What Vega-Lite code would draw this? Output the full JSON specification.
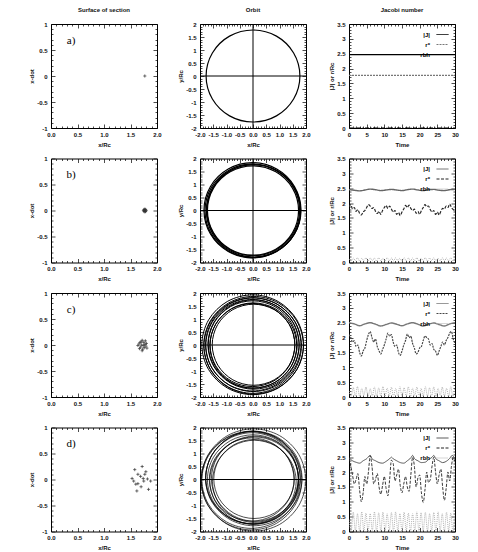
{
"$schema":"https://vega.github.io/schema/vega-lite/v6.json",
"padding":{"left":28,"top":6,"right":5,"bottom":2},
"background":"white",
"config":{
 "view":{"stroke":"black","strokeWidth":1},
 "font":"Liberation Sans",
 "axis":{"grid":false,"domain":false,"labelFont":"Liberation Sans","titleFont":"Liberation Sans","labelFontSize":6,"titleFontSize":6,"labelFontWeight":"bold","titleFontWeight":"bold","labelColor":"#111","titleColor":"#111","tickColor":"black","tickWidth":0.7,"labelOverlap":false,"labelFlush":false,"titlePadding":2},
 "title":{"font":"Liberation Sans","fontSize":6,"fontWeight":"bold","offset":8,"color":"#111"},
 "legend":{"labelFont":"Liberation Sans","labelFontSize":6,"labelFontWeight":"bold","labelColor":"black"}
},
"datasets":{
 "sa":[{"x":1.77,"y":0}],
 "sb":[{"x":1.76,"y":0.01},{"x":1.78,"y":-0.01},{"x":1.77,"y":0.025},{"x":1.77,"y":-0.025},{"x":1.745,"y":0},{"x":1.795,"y":0},{"x":1.755,"y":-0.02},{"x":1.785,"y":0.02},{"x":1.755,"y":0.02},{"x":1.785,"y":-0.02}],
 "sc":[{"x":1.66,"y":0.02},{"x":1.70,"y":0.06},{"x":1.72,"y":0.09},{"x":1.75,"y":0.05},{"x":1.78,"y":0.08},{"x":1.80,"y":0.03},{"x":1.79,"y":-0.02},{"x":1.76,"y":-0.05},{"x":1.73,"y":-0.08},{"x":1.69,"y":-0.04},{"x":1.67,"y":-0.07},{"x":1.64,"y":-0.01},{"x":1.71,"y":0.0},{"x":1.74,"y":-0.01},{"x":1.77,"y":0.01},{"x":1.68,"y":0.05},{"x":1.81,"y":-0.06},{"x":1.72,"y":-0.11}],
 "sd":[{"x":1.53,"y":0.02},{"x":1.58,"y":0.19},{"x":1.64,"y":0.10},{"x":1.72,"y":0.25},{"x":1.69,"y":0.06},{"x":1.74,"y":0.02},{"x":1.77,"y":0.10},{"x":1.79,"y":0.15},{"x":1.82,"y":0.01},{"x":1.88,"y":-0.03},{"x":1.64,"y":-0.08},{"x":1.60,"y":-0.09},{"x":1.62,"y":-0.22},{"x":1.70,"y":-0.14},{"x":1.84,"y":-0.19},{"x":1.75,"y":-0.03},{"x":1.56,"y":-0.03}],
 "oa":[{"k":1,"x":1.77,"y":0},{"k":1,"x":1.533,"y":0.885},{"k":1,"x":0.885,"y":1.533},{"k":1,"x":0,"y":1.77},{"k":1,"x":-0.885,"y":1.533},{"k":1,"x":-1.533,"y":0.885},{"k":1,"x":-1.77,"y":0},{"k":1,"x":-1.533,"y":-0.885},{"k":1,"x":-0.885,"y":-1.533},{"k":1,"x":0,"y":-1.77},{"k":1,"x":0.885,"y":-1.533},{"k":1,"x":1.533,"y":-0.885}],
 "ob":[
  {"k":1,"x":1.72,"y":0},{"k":1,"x":1.49,"y":0.86},{"k":1,"x":0.86,"y":1.49},{"k":1,"x":0,"y":1.72},{"k":1,"x":-0.86,"y":1.49},{"k":1,"x":-1.49,"y":0.86},{"k":1,"x":-1.72,"y":0},{"k":1,"x":-1.49,"y":-0.86},{"k":1,"x":-0.86,"y":-1.49},{"k":1,"x":0,"y":-1.72},{"k":1,"x":0.86,"y":-1.49},{"k":1,"x":1.49,"y":-0.86},
  {"k":2,"x":1.8,"y":-0.01},{"k":2,"x":1.561,"y":0.88},{"k":2,"x":0.91,"y":1.531},{"k":2,"x":0.02,"y":1.77},{"k":2,"x":-0.87,"y":1.531},{"k":2,"x":-1.521,"y":0.88},{"k":2,"x":-1.76,"y":-0.01},{"k":2,"x":-1.521,"y":-0.9},{"k":2,"x":-0.87,"y":-1.551},{"k":2,"x":0.02,"y":-1.79},{"k":2,"x":0.91,"y":-1.551},{"k":2,"x":1.561,"y":-0.9},
  {"k":3,"x":1.81,"y":0.01},{"k":3,"x":1.565,"y":0.925},{"k":3,"x":0.895,"y":1.595},{"k":3,"x":-0.02,"y":1.84},{"k":3,"x":-0.935,"y":1.595},{"k":3,"x":-1.605,"y":0.925},{"k":3,"x":-1.85,"y":0.01},{"k":3,"x":-1.605,"y":-0.905},{"k":3,"x":-0.935,"y":-1.575},{"k":3,"x":-0.02,"y":-1.82},{"k":3,"x":0.895,"y":-1.575},{"k":3,"x":1.565,"y":-0.905},
  {"k":4,"x":1.76,"y":0.01},{"k":4,"x":1.526,"y":0.885},{"k":4,"x":0.885,"y":1.526},{"k":4,"x":0.01,"y":1.76},{"k":4,"x":-0.865,"y":1.526},{"k":4,"x":-1.506,"y":0.885},{"k":4,"x":-1.74,"y":0.01},{"k":4,"x":-1.506,"y":-0.865},{"k":4,"x":-0.865,"y":-1.506},{"k":4,"x":0.01,"y":-1.74},{"k":4,"x":0.885,"y":-1.506},{"k":4,"x":1.526,"y":-0.865},
  {"k":5,"x":1.79,"y":-0.01},{"k":5,"x":1.549,"y":0.89},{"k":5,"x":0.89,"y":1.549},{"k":5,"x":-0.01,"y":1.79},{"k":5,"x":-0.91,"y":1.549},{"k":5,"x":-1.569,"y":0.89},{"k":5,"x":-1.81,"y":-0.01},{"k":5,"x":-1.569,"y":-0.91},{"k":5,"x":-0.91,"y":-1.569},{"k":5,"x":-0.01,"y":-1.81},{"k":5,"x":0.89,"y":-1.569},{"k":5,"x":1.549,"y":-0.91}],
 "oc":[
  {"k":1,"x":1.58,"y":0.01},{"k":1,"x":1.371,"y":0.79},{"k":1,"x":0.80,"y":1.361},{"k":1,"x":0.02,"y":1.57},{"k":1,"x":-0.76,"y":1.361},{"k":1,"x":-1.331,"y":0.79},{"k":1,"x":-1.54,"y":0.01},{"k":1,"x":-1.331,"y":-0.77},{"k":1,"x":-0.76,"y":-1.341},{"k":1,"x":0.02,"y":-1.55},{"k":1,"x":0.80,"y":-1.341},{"k":1,"x":1.371,"y":-0.77},
  {"k":2,"x":1.58,"y":0},{"k":2,"x":1.366,"y":0.8},{"k":2,"x":0.78,"y":1.386},{"k":2,"x":-0.02,"y":1.6},{"k":2,"x":-0.82,"y":1.386},{"k":2,"x":-1.406,"y":0.8},{"k":2,"x":-1.62,"y":0},{"k":2,"x":-1.406,"y":-0.8},{"k":2,"x":-0.82,"y":-1.386},{"k":2,"x":-0.02,"y":-1.6},{"k":2,"x":0.78,"y":-1.386},{"k":2,"x":1.366,"y":-0.8},
  {"k":3,"x":1.65,"y":-0.02},{"k":3,"x":1.43,"y":0.8},{"k":3,"x":0.83,"y":1.4},{"k":3,"x":0.01,"y":1.62},{"k":3,"x":-0.81,"y":1.4},{"k":3,"x":-1.41,"y":0.8},{"k":3,"x":-1.63,"y":-0.02},{"k":3,"x":-1.41,"y":-0.84},{"k":3,"x":-0.81,"y":-1.44},{"k":3,"x":0.01,"y":-1.66},{"k":3,"x":0.83,"y":-1.44},{"k":3,"x":1.43,"y":-0.84},
  {"k":4,"x":1.67,"y":0.02},{"k":4,"x":1.445,"y":0.86},{"k":4,"x":0.83,"y":1.475},{"k":4,"x":-0.01,"y":1.7},{"k":4,"x":-0.85,"y":1.475},{"k":4,"x":-1.465,"y":0.86},{"k":4,"x":-1.69,"y":0.02},{"k":4,"x":-1.465,"y":-0.82},{"k":4,"x":-0.85,"y":-1.435},{"k":4,"x":-0.01,"y":-1.66},{"k":4,"x":0.83,"y":-1.435},{"k":4,"x":1.445,"y":-0.82},
  {"k":5,"x":1.74,"y":0.02},{"k":5,"x":1.51,"y":0.88},{"k":5,"x":0.88,"y":1.51},{"k":5,"x":0.02,"y":1.74},{"k":5,"x":-0.84,"y":1.51},{"k":5,"x":-1.47,"y":0.88},{"k":5,"x":-1.7,"y":0.02},{"k":5,"x":-1.47,"y":-0.84},{"k":5,"x":-0.84,"y":-1.47},{"k":5,"x":0.02,"y":-1.7},{"k":5,"x":0.88,"y":-1.47},{"k":5,"x":1.51,"y":-0.84},
  {"k":6,"x":1.74,"y":-0.01},{"k":6,"x":1.504,"y":0.87},{"k":6,"x":0.86,"y":1.514},{"k":6,"x":-0.02,"y":1.75},{"k":6,"x":-0.9,"y":1.514},{"k":6,"x":-1.544,"y":0.87},{"k":6,"x":-1.78,"y":-0.01},{"k":6,"x":-1.544,"y":-0.89},{"k":6,"x":-0.9,"y":-1.534},{"k":6,"x":-0.02,"y":-1.77},{"k":6,"x":0.86,"y":-1.534},{"k":6,"x":1.504,"y":-0.89},
  {"k":7,"x":1.81,"y":0.01},{"k":7,"x":1.569,"y":0.91},{"k":7,"x":0.91,"y":1.569},{"k":7,"x":0.01,"y":1.81},{"k":7,"x":-0.89,"y":1.569},{"k":7,"x":-1.549,"y":0.91},{"k":7,"x":-1.79,"y":0.01},{"k":7,"x":-1.549,"y":-0.89},{"k":7,"x":-0.89,"y":-1.549},{"k":7,"x":0.01,"y":-1.79},{"k":7,"x":0.91,"y":-1.549},{"k":7,"x":1.569,"y":-0.89},
  {"k":8,"x":1.83,"y":-0.02},{"k":8,"x":1.583,"y":0.9},{"k":8,"x":0.91,"y":1.573},{"k":8,"x":-0.01,"y":1.82},{"k":8,"x":-0.93,"y":1.573},{"k":8,"x":-1.603,"y":0.9},{"k":8,"x":-1.85,"y":-0.02},{"k":8,"x":-1.603,"y":-0.94},{"k":8,"x":-0.93,"y":-1.613},{"k":8,"x":-0.01,"y":-1.86},{"k":8,"x":0.91,"y":-1.613},{"k":8,"x":1.583,"y":-0.94},
  {"k":9,"x":1.9,"y":-0.01},{"k":9,"x":1.648,"y":0.93},{"k":9,"x":0.96,"y":1.618},{"k":9,"x":0.02,"y":1.87},{"k":9,"x":-0.92,"y":1.618},{"k":9,"x":-1.608,"y":0.93},{"k":9,"x":-1.86,"y":-0.01},{"k":9,"x":-1.608,"y":-0.95},{"k":9,"x":-0.92,"y":-1.638},{"k":9,"x":0.02,"y":-1.89},{"k":9,"x":0.96,"y":-1.638},{"k":9,"x":1.648,"y":-0.95},
  {"k":10,"x":1.91,"y":0.01},{"k":10,"x":1.653,"y":0.97},{"k":10,"x":0.95,"y":1.673},{"k":10,"x":-0.01,"y":1.93},{"k":10,"x":-0.97,"y":1.673},{"k":10,"x":-1.673,"y":0.97},{"k":10,"x":-1.93,"y":0.01},{"k":10,"x":-1.673,"y":-0.95},{"k":10,"x":-0.97,"y":-1.653},{"k":10,"x":-0.01,"y":-1.91},{"k":10,"x":0.95,"y":-1.653},{"k":10,"x":1.653,"y":-0.95}],
 "od":[
  {"k":1,"x":1.56,"y":0.02},{"k":1,"x":1.356,"y":0.78},{"k":1,"x":0.8,"y":1.336},{"k":1,"x":0.04,"y":1.54},{"k":1,"x":-0.72,"y":1.336},{"k":1,"x":-1.276,"y":0.78},{"k":1,"x":-1.48,"y":0.02},{"k":1,"x":-1.276,"y":-0.74},{"k":1,"x":-0.72,"y":-1.296},{"k":1,"x":0.04,"y":-1.5},{"k":1,"x":0.8,"y":-1.296},{"k":1,"x":1.356,"y":-0.74},
  {"k":2,"x":1.55,"y":0},{"k":2,"x":1.336,"y":0.8},{"k":2,"x":0.75,"y":1.386},{"k":2,"x":-0.05,"y":1.6},{"k":2,"x":-0.85,"y":1.386},{"k":2,"x":-1.436,"y":0.8},{"k":2,"x":-1.65,"y":0},{"k":2,"x":-1.436,"y":-0.8},{"k":2,"x":-0.85,"y":-1.386},{"k":2,"x":-0.05,"y":-1.6},{"k":2,"x":0.75,"y":-1.386},{"k":2,"x":1.336,"y":-0.8},
  {"k":3,"x":1.73,"y":-0.04},{"k":3,"x":1.505,"y":0.8},{"k":3,"x":0.89,"y":1.415},{"k":3,"x":0.05,"y":1.64},{"k":3,"x":-0.79,"y":1.415},{"k":3,"x":-1.405,"y":0.8},{"k":3,"x":-1.63,"y":-0.04},{"k":3,"x":-1.405,"y":-0.88},{"k":3,"x":-0.79,"y":-1.495},{"k":3,"x":0.05,"y":-1.72},{"k":3,"x":0.89,"y":-1.495},{"k":3,"x":1.505,"y":-0.88},
  {"k":4,"x":1.71,"y":0.05},{"k":4,"x":1.476,"y":0.925},{"k":4,"x":0.835,"y":1.566},{"k":4,"x":-0.04,"y":1.8},{"k":4,"x":-0.915,"y":1.566},{"k":4,"x":-1.556,"y":0.925},{"k":4,"x":-1.79,"y":0.05},{"k":4,"x":-1.556,"y":-0.825},{"k":4,"x":-0.915,"y":-1.466},{"k":4,"x":-0.04,"y":-1.7},{"k":4,"x":0.835,"y":-1.466},{"k":4,"x":1.476,"y":-0.825},
  {"k":5,"x":1.85,"y":0.04},{"k":5,"x":1.606,"y":0.95},{"k":5,"x":0.94,"y":1.616},{"k":5,"x":0.03,"y":1.86},{"k":5,"x":-0.88,"y":1.616},{"k":5,"x":-1.546,"y":0.95},{"k":5,"x":-1.79,"y":0.04},{"k":5,"x":-1.546,"y":-0.87},{"k":5,"x":-0.88,"y":-1.536},{"k":5,"x":0.03,"y":-1.78},{"k":5,"x":0.94,"y":-1.536},{"k":5,"x":1.606,"y":-0.87},
  {"k":6,"x":1.84,"y":-0.04},{"k":6,"x":1.585,"y":0.91},{"k":6,"x":0.89,"y":1.605},{"k":6,"x":-0.06,"y":1.86},{"k":6,"x":-1.01,"y":1.605},{"k":6,"x":-1.705,"y":0.91},{"k":6,"x":-1.96,"y":-0.04},{"k":6,"x":-1.705,"y":-0.99},{"k":6,"x":-1.01,"y":-1.685},{"k":6,"x":-0.06,"y":-1.94},{"k":6,"x":0.89,"y":-1.685},{"k":6,"x":1.585,"y":-0.99},
  {"k":7,"x":1.99,"y":-0.02},{"k":7,"x":1.726,"y":0.965},{"k":7,"x":1.005,"y":1.686},{"k":7,"x":0.02,"y":1.95},{"k":7,"x":-0.965,"y":1.686},{"k":7,"x":-1.686,"y":0.965},{"k":7,"x":-1.95,"y":-0.02},{"k":7,"x":-1.686,"y":-1.005},{"k":7,"x":-0.965,"y":-1.726},{"k":7,"x":0.02,"y":-1.99},{"k":7,"x":1.005,"y":-1.726},{"k":7,"x":1.726,"y":-1.005},
  {"k":8,"x":1.72,"y":0},{"k":8,"x":1.49,"y":0.86},{"k":8,"x":0.86,"y":1.49},{"k":8,"x":0,"y":1.72},{"k":8,"x":-0.86,"y":1.49},{"k":8,"x":-1.49,"y":0.86},{"k":8,"x":-1.72,"y":0},{"k":8,"x":-1.49,"y":-0.86},{"k":8,"x":-0.86,"y":-1.49},{"k":8,"x":0,"y":-1.72},{"k":8,"x":0.86,"y":-1.49},{"k":8,"x":1.49,"y":-0.86},
  {"k":9,"x":1.71,"y":0.03},{"k":9,"x":1.49,"y":0.85},{"k":9,"x":0.89,"y":1.45},{"k":9,"x":0.07,"y":1.67},{"k":9,"x":-0.75,"y":1.45},{"k":9,"x":-1.35,"y":0.85},{"k":9,"x":-1.57,"y":0.03},{"k":9,"x":-1.35,"y":-0.79},{"k":9,"x":-0.75,"y":-1.39},{"k":9,"x":0.07,"y":-1.61},{"k":9,"x":0.89,"y":-1.39},{"k":9,"x":1.49,"y":-0.79},
  {"k":10,"x":1.79,"y":-0.02},{"k":10,"x":1.541,"y":0.91},{"k":10,"x":0.86,"y":1.591},{"k":10,"x":-0.07,"y":1.84},{"k":10,"x":-1.0,"y":1.591},{"k":10,"x":-1.681,"y":0.91},{"k":10,"x":-1.93,"y":-0.02},{"k":10,"x":-1.681,"y":-0.95},{"k":10,"x":-1.0,"y":-1.631},{"k":10,"x":-0.07,"y":-1.88},{"k":10,"x":0.86,"y":-1.631},{"k":10,"x":1.541,"y":-0.95},
  {"k":11,"x":1.78,"y":0.07},{"k":11,"x":1.541,"y":0.96},{"k":11,"x":0.89,"y":1.611},{"k":11,"x":0,"y":1.85},{"k":11,"x":-0.89,"y":1.611},{"k":11,"x":-1.541,"y":0.96},{"k":11,"x":-1.78,"y":0.07},{"k":11,"x":-1.541,"y":-0.82},{"k":11,"x":-0.89,"y":-1.471},{"k":11,"x":0,"y":-1.71},{"k":11,"x":0.89,"y":-1.471},{"k":11,"x":1.541,"y":-0.82},
  {"k":12,"x":1.63,"y":-0.07},{"k":12,"x":1.418,"y":0.72},{"k":12,"x":0.84,"y":1.298},{"k":12,"x":0.05,"y":1.51},{"k":12,"x":-0.74,"y":1.298},{"k":12,"x":-1.318,"y":0.72},{"k":12,"x":-1.53,"y":-0.07},{"k":12,"x":-1.318,"y":-0.86},{"k":12,"x":-0.74,"y":-1.438},{"k":12,"x":0.05,"y":-1.65},{"k":12,"x":0.84,"y":-1.438},{"k":12,"x":1.418,"y":-0.86}],
 "ja":[{"t":0,"v":2.47,"s":"|J|"},{"t":30,"v":2.47,"s":"|J|"},{"t":0,"v":1.77,"s":"r*"},{"t":30,"v":1.77,"s":"r*"},{"t":0,"v":0,"s":"rbh"},{"t":30,"v":0,"s":"rbh"}],
 "jb":[
  {"t":0,"v":2.45,"s":"|J|"},{"t":1.5,"v":2.43,"s":"|J|"},{"t":3,"v":2.41,"s":"|J|"},{"t":4.5,"v":2.44,"s":"|J|"},{"t":6,"v":2.47,"s":"|J|"},{"t":7.5,"v":2.45,"s":"|J|"},{"t":9,"v":2.42,"s":"|J|"},{"t":10.5,"v":2.44,"s":"|J|"},{"t":12,"v":2.46,"s":"|J|"},{"t":13.5,"v":2.44,"s":"|J|"},{"t":15,"v":2.42,"s":"|J|"},{"t":16.5,"v":2.45,"s":"|J|"},{"t":18,"v":2.47,"s":"|J|"},{"t":19.5,"v":2.44,"s":"|J|"},{"t":21,"v":2.42,"s":"|J|"},{"t":22.5,"v":2.45,"s":"|J|"},{"t":24,"v":2.46,"s":"|J|"},{"t":25.5,"v":2.43,"s":"|J|"},{"t":27,"v":2.42,"s":"|J|"},{"t":28.5,"v":2.45,"s":"|J|"},{"t":30,"v":2.46,"s":"|J|"},
  {"t":0,"v":1.88,"s":"r*"},{"t":0.5,"v":1.95,"s":"r*"},{"t":1,"v":1.8,"s":"r*"},{"t":1.5,"v":1.85,"s":"r*"},{"t":2,"v":1.72,"s":"r*"},{"t":2.5,"v":1.78,"s":"r*"},{"t":3,"v":1.65,"s":"r*"},{"t":3.5,"v":1.6,"s":"r*"},{"t":4,"v":1.7,"s":"r*"},{"t":4.5,"v":1.75,"s":"r*"},{"t":5,"v":1.85,"s":"r*"},{"t":5.5,"v":1.95,"s":"r*"},{"t":6,"v":1.9,"s":"r*"},{"t":6.5,"v":1.82,"s":"r*"},{"t":7,"v":1.85,"s":"r*"},{"t":7.5,"v":1.72,"s":"r*"},{"t":8,"v":1.65,"s":"r*"},{"t":8.5,"v":1.72,"s":"r*"},{"t":9,"v":1.62,"s":"r*"},{"t":9.5,"v":1.75,"s":"r*"},{"t":10,"v":1.85,"s":"r*"},{"t":10.5,"v":1.92,"s":"r*"},{"t":11,"v":1.82,"s":"r*"},{"t":11.5,"v":1.9,"s":"r*"},{"t":12,"v":1.8,"s":"r*"},{"t":12.5,"v":1.7,"s":"r*"},{"t":13,"v":1.75,"s":"r*"},{"t":13.5,"v":1.62,"s":"r*"},{"t":14,"v":1.68,"s":"r*"},{"t":14.5,"v":1.58,"s":"r*"},{"t":15,"v":1.7,"s":"r*"},{"t":15.5,"v":1.8,"s":"r*"},{"t":16,"v":1.92,"s":"r*"},{"t":16.5,"v":1.85,"s":"r*"},{"t":17,"v":1.93,"s":"r*"},{"t":17.5,"v":1.82,"s":"r*"},{"t":18,"v":1.75,"s":"r*"},{"t":18.5,"v":1.8,"s":"r*"},{"t":19,"v":1.66,"s":"r*"},{"t":19.5,"v":1.72,"s":"r*"},{"t":20,"v":1.62,"s":"r*"},{"t":20.5,"v":1.75,"s":"r*"},{"t":21,"v":1.85,"s":"r*"},{"t":21.5,"v":1.95,"s":"r*"},{"t":22,"v":1.88,"s":"r*"},{"t":22.5,"v":1.9,"s":"r*"},{"t":23,"v":1.78,"s":"r*"},{"t":23.5,"v":1.7,"s":"r*"},{"t":24,"v":1.75,"s":"r*"},{"t":24.5,"v":1.62,"s":"r*"},{"t":25,"v":1.7,"s":"r*"},{"t":25.5,"v":1.6,"s":"r*"},{"t":26,"v":1.72,"s":"r*"},{"t":26.5,"v":1.82,"s":"r*"},{"t":27,"v":1.8,"s":"r*"},{"t":27.5,"v":1.9,"s":"r*"},{"t":28,"v":1.85,"s":"r*"},{"t":28.5,"v":1.97,"s":"r*"},{"t":29,"v":1.85,"s":"r*"},{"t":29.5,"v":1.78,"s":"r*"},{"t":30,"v":1.72,"s":"r*"},
  {"t":0,"v":0.12,"s":"rbh"},{"t":0.6,"v":0.05,"s":"rbh"},{"t":1.2,"v":0.15,"s":"rbh"},{"t":1.8,"v":0.06,"s":"rbh"},{"t":2.4,"v":0.16,"s":"rbh"},{"t":3,"v":0.05,"s":"rbh"},{"t":3.6,"v":0.14,"s":"rbh"},{"t":4.2,"v":0.07,"s":"rbh"},{"t":4.8,"v":0.16,"s":"rbh"},{"t":5.4,"v":0.05,"s":"rbh"},{"t":6,"v":0.15,"s":"rbh"},{"t":6.6,"v":0.06,"s":"rbh"},{"t":7.2,"v":0.15,"s":"rbh"},{"t":7.8,"v":0.05,"s":"rbh"},{"t":8.4,"v":0.16,"s":"rbh"},{"t":9,"v":0.06,"s":"rbh"},{"t":9.6,"v":0.14,"s":"rbh"},{"t":10.2,"v":0.05,"s":"rbh"},{"t":10.8,"v":0.16,"s":"rbh"},{"t":11.4,"v":0.06,"s":"rbh"},{"t":12,"v":0.15,"s":"rbh"},{"t":12.6,"v":0.05,"s":"rbh"},{"t":13.2,"v":0.16,"s":"rbh"},{"t":13.8,"v":0.07,"s":"rbh"},{"t":14.4,"v":0.14,"s":"rbh"},{"t":15,"v":0.05,"s":"rbh"},{"t":15.6,"v":0.16,"s":"rbh"},{"t":16.2,"v":0.06,"s":"rbh"},{"t":16.8,"v":0.15,"s":"rbh"},{"t":17.4,"v":0.05,"s":"rbh"},{"t":18,"v":0.15,"s":"rbh"},{"t":18.6,"v":0.06,"s":"rbh"},{"t":19.2,"v":0.16,"s":"rbh"},{"t":19.8,"v":0.05,"s":"rbh"},{"t":20.4,"v":0.14,"s":"rbh"},{"t":21,"v":0.06,"s":"rbh"},{"t":21.6,"v":0.16,"s":"rbh"},{"t":22.2,"v":0.05,"s":"rbh"},{"t":22.8,"v":0.15,"s":"rbh"},{"t":23.4,"v":0.06,"s":"rbh"},{"t":24,"v":0.16,"s":"rbh"},{"t":24.6,"v":0.05,"s":"rbh"},{"t":25.2,"v":0.14,"s":"rbh"},{"t":25.8,"v":0.06,"s":"rbh"},{"t":26.4,"v":0.16,"s":"rbh"},{"t":27,"v":0.05,"s":"rbh"},{"t":27.6,"v":0.15,"s":"rbh"},{"t":28.2,"v":0.06,"s":"rbh"},{"t":28.8,"v":0.16,"s":"rbh"},{"t":29.4,"v":0.05,"s":"rbh"},{"t":30,"v":0.13,"s":"rbh"}],
 "jc":[
  {"t":0,"v":2.5,"s":"|J|"},{"t":1.5,"v":2.46,"s":"|J|"},{"t":3,"v":2.4,"s":"|J|"},{"t":4.5,"v":2.46,"s":"|J|"},{"t":6,"v":2.5,"s":"|J|"},{"t":7.5,"v":2.45,"s":"|J|"},{"t":9,"v":2.39,"s":"|J|"},{"t":10.5,"v":2.44,"s":"|J|"},{"t":12,"v":2.49,"s":"|J|"},{"t":13.5,"v":2.45,"s":"|J|"},{"t":15,"v":2.4,"s":"|J|"},{"t":16.5,"v":2.46,"s":"|J|"},{"t":18,"v":2.5,"s":"|J|"},{"t":19.5,"v":2.45,"s":"|J|"},{"t":21,"v":2.39,"s":"|J|"},{"t":22.5,"v":2.45,"s":"|J|"},{"t":24,"v":2.49,"s":"|J|"},{"t":25.5,"v":2.44,"s":"|J|"},{"t":27,"v":2.39,"s":"|J|"},{"t":28.5,"v":2.46,"s":"|J|"},{"t":30,"v":2.5,"s":"|J|"},
  {"t":0,"v":2.1,"s":"r*"},{"t":0.5,"v":2.0,"s":"r*"},{"t":1,"v":1.85,"s":"r*"},{"t":1.5,"v":1.9,"s":"r*"},{"t":2,"v":1.7,"s":"r*"},{"t":2.5,"v":1.75,"s":"r*"},{"t":3,"v":1.5,"s":"r*"},{"t":3.5,"v":1.38,"s":"r*"},{"t":4,"v":1.55,"s":"r*"},{"t":4.5,"v":1.65,"s":"r*"},{"t":5,"v":1.9,"s":"r*"},{"t":5.5,"v":2.1,"s":"r*"},{"t":6,"v":2.2,"s":"r*"},{"t":6.5,"v":2.0,"s":"r*"},{"t":7,"v":1.85,"s":"r*"},{"t":7.5,"v":1.95,"s":"r*"},{"t":8,"v":1.7,"s":"r*"},{"t":8.5,"v":1.55,"s":"r*"},{"t":9,"v":1.45,"s":"r*"},{"t":9.5,"v":1.6,"s":"r*"},{"t":10,"v":1.75,"s":"r*"},{"t":10.5,"v":1.95,"s":"r*"},{"t":11,"v":2.15,"s":"r*"},{"t":11.5,"v":2.05,"s":"r*"},{"t":12,"v":2.1,"s":"r*"},{"t":12.5,"v":1.85,"s":"r*"},{"t":13,"v":1.7,"s":"r*"},{"t":13.5,"v":1.75,"s":"r*"},{"t":14,"v":1.5,"s":"r*"},{"t":14.5,"v":1.4,"s":"r*"},{"t":15,"v":1.55,"s":"r*"},{"t":15.5,"v":1.75,"s":"r*"},{"t":16,"v":1.9,"s":"r*"},{"t":16.5,"v":2.12,"s":"r*"},{"t":17,"v":2.0,"s":"r*"},{"t":17.5,"v":2.05,"s":"r*"},{"t":18,"v":1.8,"s":"r*"},{"t":18.5,"v":1.65,"s":"r*"},{"t":19,"v":1.45,"s":"r*"},{"t":19.5,"v":1.5,"s":"r*"},{"t":20,"v":1.65,"s":"r*"},{"t":20.5,"v":1.7,"s":"r*"},{"t":21,"v":1.9,"s":"r*"},{"t":21.5,"v":2.05,"s":"r*"},{"t":22,"v":2.0,"s":"r*"},{"t":22.5,"v":1.95,"s":"r*"},{"t":23,"v":1.75,"s":"r*"},{"t":23.5,"v":1.8,"s":"r*"},{"t":24,"v":1.6,"s":"r*"},{"t":24.5,"v":1.55,"s":"r*"},{"t":25,"v":1.4,"s":"r*"},{"t":25.5,"v":1.55,"s":"r*"},{"t":26,"v":1.7,"s":"r*"},{"t":26.5,"v":1.85,"s":"r*"},{"t":27,"v":1.75,"s":"r*"},{"t":27.5,"v":1.9,"s":"r*"},{"t":28,"v":2.0,"s":"r*"},{"t":28.5,"v":2.15,"s":"r*"},{"t":29,"v":2.2,"s":"r*"},{"t":29.5,"v":1.95,"s":"r*"},{"t":30,"v":1.8,"s":"r*"},
  {"t":0,"v":0.2,"s":"rbh"},{"t":0.6,"v":0.02,"s":"rbh"},{"t":1.2,"v":0.32,"s":"rbh"},{"t":1.8,"v":0.03,"s":"rbh"},{"t":2.4,"v":0.35,"s":"rbh"},{"t":3,"v":0.02,"s":"rbh"},{"t":3.6,"v":0.3,"s":"rbh"},{"t":4.2,"v":0.04,"s":"rbh"},{"t":4.8,"v":0.33,"s":"rbh"},{"t":5.4,"v":0.02,"s":"rbh"},{"t":6,"v":0.28,"s":"rbh"},{"t":6.6,"v":0.03,"s":"rbh"},{"t":7.2,"v":0.34,"s":"rbh"},{"t":7.8,"v":0.02,"s":"rbh"},{"t":8.4,"v":0.31,"s":"rbh"},{"t":9,"v":0.03,"s":"rbh"},{"t":9.6,"v":0.35,"s":"rbh"},{"t":10.2,"v":0.02,"s":"rbh"},{"t":10.8,"v":0.3,"s":"rbh"},{"t":11.4,"v":0.04,"s":"rbh"},{"t":12,"v":0.33,"s":"rbh"},{"t":12.6,"v":0.02,"s":"rbh"},{"t":13.2,"v":0.29,"s":"rbh"},{"t":13.8,"v":0.03,"s":"rbh"},{"t":14.4,"v":0.35,"s":"rbh"},{"t":15,"v":0.02,"s":"rbh"},{"t":15.6,"v":0.31,"s":"rbh"},{"t":16.2,"v":0.03,"s":"rbh"},{"t":16.8,"v":0.34,"s":"rbh"},{"t":17.4,"v":0.02,"s":"rbh"},{"t":18,"v":0.3,"s":"rbh"},{"t":18.6,"v":0.04,"s":"rbh"},{"t":19.2,"v":0.33,"s":"rbh"},{"t":19.8,"v":0.02,"s":"rbh"},{"t":20.4,"v":0.29,"s":"rbh"},{"t":21,"v":0.03,"s":"rbh"},{"t":21.6,"v":0.35,"s":"rbh"},{"t":22.2,"v":0.02,"s":"rbh"},{"t":22.8,"v":0.31,"s":"rbh"},{"t":23.4,"v":0.03,"s":"rbh"},{"t":24,"v":0.34,"s":"rbh"},{"t":24.6,"v":0.02,"s":"rbh"},{"t":25.2,"v":0.3,"s":"rbh"},{"t":25.8,"v":0.04,"s":"rbh"},{"t":26.4,"v":0.33,"s":"rbh"},{"t":27,"v":0.02,"s":"rbh"},{"t":27.6,"v":0.29,"s":"rbh"},{"t":28.2,"v":0.03,"s":"rbh"},{"t":28.8,"v":0.35,"s":"rbh"},{"t":29.4,"v":0.02,"s":"rbh"},{"t":30,"v":0.3,"s":"rbh"}],
 "jd":[
  {"t":0,"v":2.48,"s":"|J|"},{"t":1,"v":2.38,"s":"|J|"},{"t":2,"v":2.33,"s":"|J|"},{"t":3,"v":2.3,"s":"|J|"},{"t":4,"v":2.38,"s":"|J|"},{"t":5,"v":2.45,"s":"|J|"},{"t":6,"v":2.56,"s":"|J|"},{"t":6.5,"v":2.45,"s":"|J|"},{"t":7.5,"v":2.38,"s":"|J|"},{"t":8.5,"v":2.32,"s":"|J|"},{"t":9.5,"v":2.3,"s":"|J|"},{"t":10.5,"v":2.36,"s":"|J|"},{"t":11.5,"v":2.45,"s":"|J|"},{"t":12,"v":2.5,"s":"|J|"},{"t":12.5,"v":2.45,"s":"|J|"},{"t":13.5,"v":2.38,"s":"|J|"},{"t":14.5,"v":2.32,"s":"|J|"},{"t":15.5,"v":2.3,"s":"|J|"},{"t":16.5,"v":2.38,"s":"|J|"},{"t":17.5,"v":2.48,"s":"|J|"},{"t":18,"v":2.56,"s":"|J|"},{"t":18.5,"v":2.46,"s":"|J|"},{"t":19.5,"v":2.38,"s":"|J|"},{"t":20.5,"v":2.32,"s":"|J|"},{"t":21.5,"v":2.33,"s":"|J|"},{"t":22.5,"v":2.42,"s":"|J|"},{"t":23.5,"v":2.5,"s":"|J|"},{"t":24,"v":2.56,"s":"|J|"},{"t":24.5,"v":2.46,"s":"|J|"},{"t":25.5,"v":2.38,"s":"|J|"},{"t":26.5,"v":2.32,"s":"|J|"},{"t":27.5,"v":2.36,"s":"|J|"},{"t":28.5,"v":2.46,"s":"|J|"},{"t":29.2,"v":2.56,"s":"|J|"},{"t":30,"v":2.45,"s":"|J|"},
  {"t":0,"v":2.45,"s":"r*"},{"t":0.5,"v":2.2,"s":"r*"},{"t":1,"v":1.9,"s":"r*"},{"t":1.5,"v":1.6,"s":"r*"},{"t":2,"v":1.75,"s":"r*"},{"t":2.5,"v":1.95,"s":"r*"},{"t":3,"v":1.4,"s":"r*"},{"t":3.5,"v":1.0,"s":"r*"},{"t":4,"v":1.3,"s":"r*"},{"t":4.5,"v":1.85,"s":"r*"},{"t":5,"v":1.6,"s":"r*"},{"t":5.5,"v":2.0,"s":"r*"},{"t":6,"v":2.55,"s":"r*"},{"t":6.5,"v":2.2,"s":"r*"},{"t":7,"v":1.6,"s":"r*"},{"t":7.5,"v":1.75,"s":"r*"},{"t":8,"v":1.95,"s":"r*"},{"t":8.5,"v":1.5,"s":"r*"},{"t":9,"v":1.25,"s":"r*"},{"t":9.5,"v":1.55,"s":"r*"},{"t":10,"v":1.85,"s":"r*"},{"t":10.5,"v":1.45,"s":"r*"},{"t":11,"v":1.2,"s":"r*"},{"t":11.5,"v":1.75,"s":"r*"},{"t":12,"v":2.4,"s":"r*"},{"t":12.5,"v":2.3,"s":"r*"},{"t":13,"v":1.7,"s":"r*"},{"t":13.5,"v":1.9,"s":"r*"},{"t":14,"v":2.1,"s":"r*"},{"t":14.5,"v":1.55,"s":"r*"},{"t":15,"v":1.3,"s":"r*"},{"t":15.5,"v":1.6,"s":"r*"},{"t":16,"v":1.85,"s":"r*"},{"t":16.5,"v":1.5,"s":"r*"},{"t":17,"v":1.35,"s":"r*"},{"t":17.5,"v":1.9,"s":"r*"},{"t":18,"v":2.5,"s":"r*"},{"t":18.5,"v":2.2,"s":"r*"},{"t":19,"v":1.5,"s":"r*"},{"t":19.5,"v":1.8,"s":"r*"},{"t":20,"v":1.9,"s":"r*"},{"t":20.5,"v":1.3,"s":"r*"},{"t":21,"v":0.98,"s":"r*"},{"t":21.5,"v":1.4,"s":"r*"},{"t":22,"v":2.0,"s":"r*"},{"t":22.5,"v":1.65,"s":"r*"},{"t":23,"v":1.75,"s":"r*"},{"t":23.5,"v":2.2,"s":"r*"},{"t":24,"v":2.5,"s":"r*"},{"t":24.5,"v":2.0,"s":"r*"},{"t":25,"v":1.6,"s":"r*"},{"t":25.5,"v":1.9,"s":"r*"},{"t":26,"v":2.1,"s":"r*"},{"t":26.5,"v":1.5,"s":"r*"},{"t":27,"v":1.05,"s":"r*"},{"t":27.5,"v":1.45,"s":"r*"},{"t":28,"v":2.0,"s":"r*"},{"t":28.5,"v":1.7,"s":"r*"},{"t":29,"v":2.2,"s":"r*"},{"t":29.5,"v":2.5,"s":"r*"},{"t":30,"v":2.3,"s":"r*"},
  {"t":0,"v":0.4,"s":"rbh"},{"t":0.6,"v":0.0,"s":"rbh"},{"t":1.2,"v":0.65,"s":"rbh"},{"t":1.8,"v":0.02,"s":"rbh"},{"t":2.4,"v":0.6,"s":"rbh"},{"t":3,"v":0.0,"s":"rbh"},{"t":3.6,"v":0.66,"s":"rbh"},{"t":4.2,"v":0.02,"s":"rbh"},{"t":4.8,"v":0.62,"s":"rbh"},{"t":5.4,"v":0.0,"s":"rbh"},{"t":6,"v":0.6,"s":"rbh"},{"t":6.6,"v":0.03,"s":"rbh"},{"t":7.2,"v":0.66,"s":"rbh"},{"t":7.8,"v":0.0,"s":"rbh"},{"t":8.4,"v":0.63,"s":"rbh"},{"t":9,"v":0.02,"s":"rbh"},{"t":9.6,"v":0.65,"s":"rbh"},{"t":10.2,"v":0.0,"s":"rbh"},{"t":10.8,"v":0.6,"s":"rbh"},{"t":11.4,"v":0.03,"s":"rbh"},{"t":12,"v":0.64,"s":"rbh"},{"t":12.6,"v":0.0,"s":"rbh"},{"t":13.2,"v":0.66,"s":"rbh"},{"t":13.8,"v":0.02,"s":"rbh"},{"t":14.4,"v":0.6,"s":"rbh"},{"t":15,"v":0.0,"s":"rbh"},{"t":15.6,"v":0.65,"s":"rbh"},{"t":16.2,"v":0.02,"s":"rbh"},{"t":16.8,"v":0.62,"s":"rbh"},{"t":17.4,"v":0.0,"s":"rbh"},{"t":18,"v":0.6,"s":"rbh"},{"t":18.6,"v":0.03,"s":"rbh"},{"t":19.2,"v":0.66,"s":"rbh"},{"t":19.8,"v":0.0,"s":"rbh"},{"t":20.4,"v":0.63,"s":"rbh"},{"t":21,"v":0.02,"s":"rbh"},{"t":21.6,"v":0.65,"s":"rbh"},{"t":22.2,"v":0.0,"s":"rbh"},{"t":22.8,"v":0.6,"s":"rbh"},{"t":23.4,"v":0.03,"s":"rbh"},{"t":24,"v":0.64,"s":"rbh"},{"t":24.6,"v":0.0,"s":"rbh"},{"t":25.2,"v":0.66,"s":"rbh"},{"t":25.8,"v":0.02,"s":"rbh"},{"t":26.4,"v":0.6,"s":"rbh"},{"t":27,"v":0.0,"s":"rbh"},{"t":27.6,"v":0.65,"s":"rbh"},{"t":28.2,"v":0.02,"s":"rbh"},{"t":28.8,"v":0.62,"s":"rbh"},{"t":29.4,"v":0.0,"s":"rbh"},{"t":30,"v":0.55,"s":"rbh"}]
},
"columns":3,
"spacing":{"row":30.5,"column":43},
"bounds":"flush",
"resolve":{"scale":{"color":"independent","strokeDash":"independent"},"legend":{"color":"independent","strokeDash":"independent"}},
"concat":[
 {"width":106,"height":104,"title":"Surface of section",
  "layer":[
   {"data":{"name":"sa"},"mark":{"type":"point","shape":"M-1,0L1,0M0,-1L0,1","filled":false,"size":10,"strokeWidth":0.7,"color":"#333","opacity":1},
    "encoding":{"x":{"field":"x","type":"quantitative","scale":{"domain":[0,2],"nice":false},"axis":{"orient":"bottom","title":"x/Rc","tickCount":20,"labelExpr":"datum.value % 0.5 == 0 ? format(datum.value, '.1f') : ''","tickSize":{"condition":{"test":"datum.value % 0.5 == 0","value":-4},"value":-2},"labelPadding":7}},
     "y":{"field":"y","type":"quantitative","scale":{"domain":[-1,1],"nice":false},"axis":{"orient":"left","title":"x-dot","tickCount":20,"labelExpr":"datum.value % 0.5 == 0 ? replace(format(datum.value, '~g'), '\u2212', '-') : ''","tickSize":{"condition":{"test":"datum.value % 0.5 == 0","value":-4},"value":-2},"labelPadding":8}}}},
   {"data":{"values":[{"x":0.38,"y":0.68,"t":"a)"}]},"mark":{"type":"text","font":"Liberation Serif","fontSize":11,"color":"black"},
    "encoding":{"x":{"field":"x","type":"quantitative","scale":{"domain":[0,2],"nice":false},"axis":{"orient":"top","title":null,"labels":false,"tickCount":20,"tickSize":{"condition":{"test":"datum.value % 0.5 == 0","value":-4},"value":-2}}},
     "y":{"field":"y","type":"quantitative","scale":{"domain":[-1,1],"nice":false},"axis":{"orient":"right","title":null,"labels":false,"tickCount":20,"tickSize":{"condition":{"test":"datum.value % 0.5 == 0","value":-4},"value":-2}}},
     "text":{"field":"t"}}}],
  "resolve":{"axis":{"x":"independent","y":"independent"}}},
 {"width":106,"height":104,"title":"Orbit",
  "layer":[
   {"data":{"name":"oa"},"mark":{"type":"line","interpolate":"cardinal-closed","color":"black","strokeWidth":1.2,"clip":true},
    "encoding":{"x":{"field":"x","type":"quantitative","scale":{"domain":[-2,2],"nice":false},"axis":{"orient":"bottom","title":"x/Rc","tickCount":40,"labelExpr":"datum.value % 0.5 == 0 ? replace(format(datum.value, '.1f'), '\u2212', '-') : ''","tickSize":{"condition":{"test":"datum.value % 0.5 == 0","value":-4},"value":-2},"labelPadding":7}},
     "y":{"field":"y","type":"quantitative","scale":{"domain":[-2,2],"nice":false},"axis":{"orient":"left","title":"y/Rc","tickCount":40,"labelExpr":"datum.value % 0.5 == 0 ? replace(format(datum.value, '~g'), '\u2212', '-') : ''","tickSize":{"condition":{"test":"datum.value % 0.5 == 0","value":-4},"value":-2},"labelPadding":8}},
     "detail":{"field":"k","type":"nominal"},"order":{"value":null}}},
   {"data":{"values":[{"z":0}]},"mark":{"type":"rule","color":"black","strokeWidth":1},"encoding":{"x":{"field":"z","type":"quantitative","scale":{"domain":[-2,2],"nice":false},"axis":null}}},
   {"data":{"values":[{"z":0}]},"mark":{"type":"rule","color":"black","strokeWidth":1},"encoding":{"y":{"field":"z","type":"quantitative","scale":{"domain":[-2,2],"nice":false},"axis":null}}},
   {"data":{"values":[{"x":0,"y":0}]},"mark":{"type":"point","opacity":0},
    "encoding":{"x":{"field":"x","type":"quantitative","scale":{"domain":[-2,2],"nice":false},"axis":{"orient":"top","title":null,"labels":false,"tickCount":40,"tickSize":{"condition":{"test":"datum.value % 0.5 == 0","value":-4},"value":-2}}},
     "y":{"field":"y","type":"quantitative","scale":{"domain":[-2,2],"nice":false},"axis":{"orient":"right","title":null,"labels":false,"tickCount":40,"tickSize":{"condition":{"test":"datum.value % 0.5 == 0","value":-4},"value":-2}}}}}],
  "resolve":{"axis":{"x":"independent","y":"independent"}}},
 {"width":106,"height":104,"title":"Jacobi number",
  "layer":[
   {"data":{"name":"ja"},"mark":{"type":"line","interpolate":"monotone","strokeWidth":1.1,"clip":true},
    "encoding":{"x":{"field":"t","type":"quantitative","scale":{"domain":[0,30],"nice":false},"axis":{"orient":"bottom","title":"Time","tickCount":30,"labelExpr":"datum.value % 5 == 0 ? format(datum.value, 'd') : ''","tickSize":{"condition":{"test":"datum.value % 5 == 0","value":-4},"value":-2},"labelPadding":7}},
     "y":{"field":"v","type":"quantitative","scale":{"domain":[0,3.5],"nice":false},"axis":{"orient":"left","title":"|J| or r/Rc","tickCount":35,"labelExpr":"datum.value % 0.5 == 0 ? format(datum.value, '~g') : ''","tickSize":{"condition":{"test":"datum.value % 0.5 == 0","value":-4},"value":-2},"labelPadding":8}},
     "color":{"field":"s","type":"nominal","scale":{"domain":["|J|","r*","rbh"],"range":["#000000","#777777","#000000"]},"legend":{"title":null,"orient":"top-right","offset":2,"symbolType":"stroke","symbolSize":144,"symbolStrokeWidth":1,"labelFontSize":6,"labelColor":"black","labelAlign":"right","labelOffset":-19,"rowPadding":0,"padding":2}},
     "strokeDash":{"field":"s","type":"nominal","scale":{"domain":["|J|","r*","rbh"],"range":[[1,0],[2,1],[4,1.5,1,1.5]]},"legend":{"title":null,"orient":"top-right","offset":2,"symbolType":"stroke","symbolSize":144,"symbolStrokeWidth":1,"labelFontSize":6,"labelColor":"black","labelAlign":"right","labelOffset":-19,"rowPadding":0,"padding":2}}}},
   {"data":{"values":[{"x":0,"y":0}]},"mark":{"type":"point","opacity":0},
    "encoding":{"x":{"field":"x","type":"quantitative","scale":{"domain":[0,30],"nice":false},"axis":{"orient":"top","title":null,"labels":false,"tickCount":30,"tickSize":{"condition":{"test":"datum.value % 5 == 0","value":-4},"value":-2}}},
     "y":{"field":"y","type":"quantitative","scale":{"domain":[0,3.5],"nice":false},"axis":{"orient":"right","title":null,"labels":false,"tickCount":35,"tickSize":{"condition":{"test":"datum.value % 0.5 == 0","value":-4},"value":-2}}}}}],
  "resolve":{"axis":{"x":"independent","y":"independent"}}},

 {"width":106,"height":104,
  "layer":[
   {"data":{"name":"sb"},"mark":{"type":"point","shape":"M-1,0L1,0M0,-1L0,1","filled":false,"size":10,"strokeWidth":0.7,"color":"#333","opacity":1},
    "encoding":{"x":{"field":"x","type":"quantitative","scale":{"domain":[0,2],"nice":false},"axis":{"orient":"bottom","title":"x/Rc","tickCount":20,"labelExpr":"datum.value % 0.5 == 0 ? format(datum.value, '.1f') : ''","tickSize":{"condition":{"test":"datum.value % 0.5 == 0","value":-4},"value":-2},"labelPadding":7}},
     "y":{"field":"y","type":"quantitative","scale":{"domain":[-1,1],"nice":false},"axis":{"orient":"left","title":"x-dot","tickCount":20,"labelExpr":"datum.value % 0.5 == 0 ? replace(format(datum.value, '~g'), '\u2212', '-') : ''","tickSize":{"condition":{"test":"datum.value % 0.5 == 0","value":-4},"value":-2},"labelPadding":8}}}},
   {"data":{"values":[{"x":0.38,"y":0.68,"t":"b)"}]},"mark":{"type":"text","font":"Liberation Serif","fontSize":11,"color":"black"},
    "encoding":{"x":{"field":"x","type":"quantitative","scale":{"domain":[0,2],"nice":false},"axis":{"orient":"top","title":null,"labels":false,"tickCount":20,"tickSize":{"condition":{"test":"datum.value % 0.5 == 0","value":-4},"value":-2}}},
     "y":{"field":"y","type":"quantitative","scale":{"domain":[-1,1],"nice":false},"axis":{"orient":"right","title":null,"labels":false,"tickCount":20,"tickSize":{"condition":{"test":"datum.value % 0.5 == 0","value":-4},"value":-2}}},
     "text":{"field":"t"}}}],
  "resolve":{"axis":{"x":"independent","y":"independent"}}},
 {"width":106,"height":104,
  "layer":[
   {"data":{"name":"ob"},"mark":{"type":"line","interpolate":"cardinal-closed","color":"black","strokeWidth":1.2,"clip":true},
    "encoding":{"x":{"field":"x","type":"quantitative","scale":{"domain":[-2,2],"nice":false},"axis":{"orient":"bottom","title":"x/Rc","tickCount":40,"labelExpr":"datum.value % 0.5 == 0 ? replace(format(datum.value, '.1f'), '\u2212', '-') : ''","tickSize":{"condition":{"test":"datum.value % 0.5 == 0","value":-4},"value":-2},"labelPadding":7}},
     "y":{"field":"y","type":"quantitative","scale":{"domain":[-2,2],"nice":false},"axis":{"orient":"left","title":"y/Rc","tickCount":40,"labelExpr":"datum.value % 0.5 == 0 ? replace(format(datum.value, '~g'), '\u2212', '-') : ''","tickSize":{"condition":{"test":"datum.value % 0.5 == 0","value":-4},"value":-2},"labelPadding":8}},
     "detail":{"field":"k","type":"nominal"},"order":{"value":null}}},
   {"data":{"values":[{"z":0}]},"mark":{"type":"rule","color":"black","strokeWidth":1},"encoding":{"x":{"field":"z","type":"quantitative","scale":{"domain":[-2,2],"nice":false},"axis":null}}},
   {"data":{"values":[{"z":0}]},"mark":{"type":"rule","color":"black","strokeWidth":1},"encoding":{"y":{"field":"z","type":"quantitative","scale":{"domain":[-2,2],"nice":false},"axis":null}}},
   {"data":{"values":[{"x":0,"y":0}]},"mark":{"type":"point","opacity":0},
    "encoding":{"x":{"field":"x","type":"quantitative","scale":{"domain":[-2,2],"nice":false},"axis":{"orient":"top","title":null,"labels":false,"tickCount":40,"tickSize":{"condition":{"test":"datum.value % 0.5 == 0","value":-4},"value":-2}}},
     "y":{"field":"y","type":"quantitative","scale":{"domain":[-2,2],"nice":false},"axis":{"orient":"right","title":null,"labels":false,"tickCount":40,"tickSize":{"condition":{"test":"datum.value % 0.5 == 0","value":-4},"value":-2}}}}}],
  "resolve":{"axis":{"x":"independent","y":"independent"}}},
 {"width":106,"height":104,
  "layer":[
   {"data":{"name":"jb"},"mark":{"type":"line","interpolate":"monotone","clip":true},
    "encoding":{"x":{"field":"t","type":"quantitative","scale":{"domain":[0,30],"nice":false},"axis":{"orient":"bottom","title":"Time","tickCount":30,"labelExpr":"datum.value % 5 == 0 ? format(datum.value, 'd') : ''","tickSize":{"condition":{"test":"datum.value % 5 == 0","value":-4},"value":-2},"labelPadding":7}},
     "y":{"field":"v","type":"quantitative","scale":{"domain":[0,3.5],"nice":false},"axis":{"orient":"left","title":"|J| or r/Rc","tickCount":35,"labelExpr":"datum.value % 0.5 == 0 ? format(datum.value, '~g') : ''","tickSize":{"condition":{"test":"datum.value % 0.5 == 0","value":-4},"value":-2},"labelPadding":8}},
     "strokeWidth":{"field":"s","type":"nominal","scale":{"domain":["|J|","r*","rbh"],"range":[1.4,0.9,1.0]},"legend":null},
     "color":{"field":"s","type":"nominal","scale":{"domain":["|J|","r*","rbh"],"range":["#666666","#222222","#aaaaaa"]},"legend":{"title":null,"orient":"top-right","offset":2,"symbolType":"stroke","symbolSize":144,"symbolStrokeWidth":1,"labelFontSize":6,"labelColor":"black","labelAlign":"right","labelOffset":-19,"rowPadding":0,"padding":2}},
     "strokeDash":{"field":"s","type":"nominal","scale":{"domain":["|J|","r*","rbh"],"range":[[1,0],[3,1.5],[1,1]]},"legend":{"title":null,"orient":"top-right","offset":2,"symbolType":"stroke","symbolSize":144,"symbolStrokeWidth":1,"labelFontSize":6,"labelColor":"black","labelAlign":"right","labelOffset":-19,"rowPadding":0,"padding":2}}}},
   {"data":{"values":[{"x":0,"y":0}]},"mark":{"type":"point","opacity":0},
    "encoding":{"x":{"field":"x","type":"quantitative","scale":{"domain":[0,30],"nice":false},"axis":{"orient":"top","title":null,"labels":false,"tickCount":30,"tickSize":{"condition":{"test":"datum.value % 5 == 0","value":-4},"value":-2}}},
     "y":{"field":"y","type":"quantitative","scale":{"domain":[0,3.5],"nice":false},"axis":{"orient":"right","title":null,"labels":false,"tickCount":35,"tickSize":{"condition":{"test":"datum.value % 0.5 == 0","value":-4},"value":-2}}}}}],
  "resolve":{"axis":{"x":"independent","y":"independent"}}},

 {"width":106,"height":104,
  "layer":[
   {"data":{"name":"sc"},"mark":{"type":"point","shape":"M-1,0L1,0M0,-1L0,1","filled":false,"size":10,"strokeWidth":0.7,"color":"#333","opacity":1},
    "encoding":{"x":{"field":"x","type":"quantitative","scale":{"domain":[0,2],"nice":false},"axis":{"orient":"bottom","title":"x/Rc","tickCount":20,"labelExpr":"datum.value % 0.5 == 0 ? format(datum.value, '.1f') : ''","tickSize":{"condition":{"test":"datum.value % 0.5 == 0","value":-4},"value":-2},"labelPadding":7}},
     "y":{"field":"y","type":"quantitative","scale":{"domain":[-1,1],"nice":false},"axis":{"orient":"left","title":"x-dot","tickCount":20,"labelExpr":"datum.value % 0.5 == 0 ? replace(format(datum.value, '~g'), '\u2212', '-') : ''","tickSize":{"condition":{"test":"datum.value % 0.5 == 0","value":-4},"value":-2},"labelPadding":8}}}},
   {"data":{"values":[{"x":0.38,"y":0.68,"t":"c)"}]},"mark":{"type":"text","font":"Liberation Serif","fontSize":11,"color":"black"},
    "encoding":{"x":{"field":"x","type":"quantitative","scale":{"domain":[0,2],"nice":false},"axis":{"orient":"top","title":null,"labels":false,"tickCount":20,"tickSize":{"condition":{"test":"datum.value % 0.5 == 0","value":-4},"value":-2}}},
     "y":{"field":"y","type":"quantitative","scale":{"domain":[-1,1],"nice":false},"axis":{"orient":"right","title":null,"labels":false,"tickCount":20,"tickSize":{"condition":{"test":"datum.value % 0.5 == 0","value":-4},"value":-2}}},
     "text":{"field":"t"}}}],
  "resolve":{"axis":{"x":"independent","y":"independent"}}},
 {"width":106,"height":104,
  "layer":[
   {"data":{"name":"oc"},"mark":{"type":"line","interpolate":"cardinal-closed","color":"black","strokeWidth":1.0,"clip":true},
    "encoding":{"x":{"field":"x","type":"quantitative","scale":{"domain":[-2,2],"nice":false},"axis":{"orient":"bottom","title":"x/Rc","tickCount":40,"labelExpr":"datum.value % 0.5 == 0 ? replace(format(datum.value, '.1f'), '\u2212', '-') : ''","tickSize":{"condition":{"test":"datum.value % 0.5 == 0","value":-4},"value":-2},"labelPadding":7}},
     "y":{"field":"y","type":"quantitative","scale":{"domain":[-2,2],"nice":false},"axis":{"orient":"left","title":"y/Rc","tickCount":40,"labelExpr":"datum.value % 0.5 == 0 ? replace(format(datum.value, '~g'), '\u2212', '-') : ''","tickSize":{"condition":{"test":"datum.value % 0.5 == 0","value":-4},"value":-2},"labelPadding":8}},
     "detail":{"field":"k","type":"nominal"},"order":{"value":null}}},
   {"data":{"values":[{"z":0}]},"mark":{"type":"rule","color":"black","strokeWidth":1},"encoding":{"x":{"field":"z","type":"quantitative","scale":{"domain":[-2,2],"nice":false},"axis":null}}},
   {"data":{"values":[{"z":0}]},"mark":{"type":"rule","color":"black","strokeWidth":1},"encoding":{"y":{"field":"z","type":"quantitative","scale":{"domain":[-2,2],"nice":false},"axis":null}}},
   {"data":{"values":[{"x":0,"y":0}]},"mark":{"type":"point","opacity":0},
    "encoding":{"x":{"field":"x","type":"quantitative","scale":{"domain":[-2,2],"nice":false},"axis":{"orient":"top","title":null,"labels":false,"tickCount":40,"tickSize":{"condition":{"test":"datum.value % 0.5 == 0","value":-4},"value":-2}}},
     "y":{"field":"y","type":"quantitative","scale":{"domain":[-2,2],"nice":false},"axis":{"orient":"right","title":null,"labels":false,"tickCount":40,"tickSize":{"condition":{"test":"datum.value % 0.5 == 0","value":-4},"value":-2}}}}}],
  "resolve":{"axis":{"x":"independent","y":"independent"}}},
 {"width":106,"height":104,
  "layer":[
   {"data":{"name":"jc"},"mark":{"type":"line","interpolate":"monotone","clip":true},
    "encoding":{"x":{"field":"t","type":"quantitative","scale":{"domain":[0,30],"nice":false},"axis":{"orient":"bottom","title":"Time","tickCount":30,"labelExpr":"datum.value % 5 == 0 ? format(datum.value, 'd') : ''","tickSize":{"condition":{"test":"datum.value % 5 == 0","value":-4},"value":-2},"labelPadding":7}},
     "y":{"field":"v","type":"quantitative","scale":{"domain":[0,3.5],"nice":false},"axis":{"orient":"left","title":"|J| or r/Rc","tickCount":35,"labelExpr":"datum.value % 0.5 == 0 ? format(datum.value, '~g') : ''","tickSize":{"condition":{"test":"datum.value % 0.5 == 0","value":-4},"value":-2},"labelPadding":8}},
     "strokeWidth":{"field":"s","type":"nominal","scale":{"domain":["|J|","r*","rbh"],"range":[1.6,1.0,1.0]},"legend":null},
     "color":{"field":"s","type":"nominal","scale":{"domain":["|J|","r*","rbh"],"range":["#777777","#444444","#aaaaaa"]},"legend":{"title":null,"orient":"top-right","offset":2,"symbolType":"stroke","symbolSize":144,"symbolStrokeWidth":1,"labelFontSize":6,"labelColor":"black","labelAlign":"right","labelOffset":-19,"rowPadding":0,"padding":2}},
     "strokeDash":{"field":"s","type":"nominal","scale":{"domain":["|J|","r*","rbh"],"range":[[1,0],[2,1],[1,1]]},"legend":{"title":null,"orient":"top-right","offset":2,"symbolType":"stroke","symbolSize":144,"symbolStrokeWidth":1,"labelFontSize":6,"labelColor":"black","labelAlign":"right","labelOffset":-19,"rowPadding":0,"padding":2}}}},
   {"data":{"values":[{"x":0,"y":0}]},"mark":{"type":"point","opacity":0},
    "encoding":{"x":{"field":"x","type":"quantitative","scale":{"domain":[0,30],"nice":false},"axis":{"orient":"top","title":null,"labels":false,"tickCount":30,"tickSize":{"condition":{"test":"datum.value % 5 == 0","value":-4},"value":-2}}},
     "y":{"field":"y","type":"quantitative","scale":{"domain":[0,3.5],"nice":false},"axis":{"orient":"right","title":null,"labels":false,"tickCount":35,"tickSize":{"condition":{"test":"datum.value % 0.5 == 0","value":-4},"value":-2}}}}}],
  "resolve":{"axis":{"x":"independent","y":"independent"}}},

 {"width":106,"height":104,
  "layer":[
   {"data":{"name":"sd"},"mark":{"type":"point","shape":"M-1,0L1,0M0,-1L0,1","filled":false,"size":10,"strokeWidth":0.7,"color":"#333","opacity":1},
    "encoding":{"x":{"field":"x","type":"quantitative","scale":{"domain":[0,2],"nice":false},"axis":{"orient":"bottom","title":"x/Rc","tickCount":20,"labelExpr":"datum.value % 0.5 == 0 ? format(datum.value, '.1f') : ''","tickSize":{"condition":{"test":"datum.value % 0.5 == 0","value":-4},"value":-2},"labelPadding":7}},
     "y":{"field":"y","type":"quantitative","scale":{"domain":[-1,1],"nice":false},"axis":{"orient":"left","title":"x-dot","tickCount":20,"labelExpr":"datum.value % 0.5 == 0 ? replace(format(datum.value, '~g'), '\u2212', '-') : ''","tickSize":{"condition":{"test":"datum.value % 0.5 == 0","value":-4},"value":-2},"labelPadding":8}}}},
   {"data":{"values":[{"x":0.38,"y":0.68,"t":"d)"}]},"mark":{"type":"text","font":"Liberation Serif","fontSize":11,"color":"black"},
    "encoding":{"x":{"field":"x","type":"quantitative","scale":{"domain":[0,2],"nice":false},"axis":{"orient":"top","title":null,"labels":false,"tickCount":20,"tickSize":{"condition":{"test":"datum.value % 0.5 == 0","value":-4},"value":-2}}},
     "y":{"field":"y","type":"quantitative","scale":{"domain":[-1,1],"nice":false},"axis":{"orient":"right","title":null,"labels":false,"tickCount":20,"tickSize":{"condition":{"test":"datum.value % 0.5 == 0","value":-4},"value":-2}}},
     "text":{"field":"t"}}}],
  "resolve":{"axis":{"x":"independent","y":"independent"}}},
 {"width":106,"height":104,
  "layer":[
   {"data":{"name":"od"},"mark":{"type":"line","interpolate":"cardinal-closed","color":"black","strokeWidth":0.7,"clip":true},
    "encoding":{"x":{"field":"x","type":"quantitative","scale":{"domain":[-2,2],"nice":false},"axis":{"orient":"bottom","title":"x/Rc","tickCount":40,"labelExpr":"datum.value % 0.5 == 0 ? replace(format(datum.value, '.1f'), '\u2212', '-') : ''","tickSize":{"condition":{"test":"datum.value % 0.5 == 0","value":-4},"value":-2},"labelPadding":7}},
     "y":{"field":"y","type":"quantitative","scale":{"domain":[-2,2],"nice":false},"axis":{"orient":"left","title":"y/Rc","tickCount":40,"labelExpr":"datum.value % 0.5 == 0 ? replace(format(datum.value, '~g'), '\u2212', '-') : ''","tickSize":{"condition":{"test":"datum.value % 0.5 == 0","value":-4},"value":-2},"labelPadding":8}},
     "detail":{"field":"k","type":"nominal"},"order":{"value":null}}},
   {"data":{"values":[{"z":0}]},"mark":{"type":"rule","color":"black","strokeWidth":1},"encoding":{"x":{"field":"z","type":"quantitative","scale":{"domain":[-2,2],"nice":false},"axis":null}}},
   {"data":{"values":[{"z":0}]},"mark":{"type":"rule","color":"black","strokeWidth":1},"encoding":{"y":{"field":"z","type":"quantitative","scale":{"domain":[-2,2],"nice":false},"axis":null}}},
   {"data":{"values":[{"x":0,"y":0}]},"mark":{"type":"point","opacity":0},
    "encoding":{"x":{"field":"x","type":"quantitative","scale":{"domain":[-2,2],"nice":false},"axis":{"orient":"top","title":null,"labels":false,"tickCount":40,"tickSize":{"condition":{"test":"datum.value % 0.5 == 0","value":-4},"value":-2}}},
     "y":{"field":"y","type":"quantitative","scale":{"domain":[-2,2],"nice":false},"axis":{"orient":"right","title":null,"labels":false,"tickCount":40,"tickSize":{"condition":{"test":"datum.value % 0.5 == 0","value":-4},"value":-2}}}}}],
  "resolve":{"axis":{"x":"independent","y":"independent"}}},
 {"width":106,"height":104,
  "layer":[
   {"data":{"name":"jd"},"mark":{"type":"line","interpolate":"monotone","strokeWidth":0.9,"clip":true},
    "encoding":{"x":{"field":"t","type":"quantitative","scale":{"domain":[0,30],"nice":false},"axis":{"orient":"bottom","title":"Time","tickCount":30,"labelExpr":"datum.value % 5 == 0 ? format(datum.value, 'd') : ''","tickSize":{"condition":{"test":"datum.value % 5 == 0","value":-4},"value":-2},"labelPadding":7}},
     "y":{"field":"v","type":"quantitative","scale":{"domain":[0,3.5],"nice":false},"axis":{"orient":"left","title":"|J| or r/Rc","tickCount":35,"labelExpr":"datum.value % 0.5 == 0 ? format(datum.value, '~g') : ''","tickSize":{"condition":{"test":"datum.value % 0.5 == 0","value":-4},"value":-2},"labelPadding":8}},
     "color":{"field":"s","type":"nominal","scale":{"domain":["|J|","r*","rbh"],"range":["#444444","#222222","#aaaaaa"]},"legend":{"title":null,"orient":"top-right","offset":2,"symbolType":"stroke","symbolSize":144,"symbolStrokeWidth":1,"labelFontSize":6,"labelColor":"black","labelAlign":"right","labelOffset":-19,"rowPadding":0,"padding":2}},
     "strokeDash":{"field":"s","type":"nominal","scale":{"domain":["|J|","r*","rbh"],"range":[[1,0],[3,1.5],[1,1]]},"legend":{"title":null,"orient":"top-right","offset":2,"symbolType":"stroke","symbolSize":144,"symbolStrokeWidth":1,"labelFontSize":6,"labelColor":"black","labelAlign":"right","labelOffset":-19,"rowPadding":0,"padding":2}}}},
   {"data":{"values":[{"x":0,"y":0}]},"mark":{"type":"point","opacity":0},
    "encoding":{"x":{"field":"x","type":"quantitative","scale":{"domain":[0,30],"nice":false},"axis":{"orient":"top","title":null,"labels":false,"tickCount":30,"tickSize":{"condition":{"test":"datum.value % 5 == 0","value":-4},"value":-2}}},
     "y":{"field":"y","type":"quantitative","scale":{"domain":[0,3.5],"nice":false},"axis":{"orient":"right","title":null,"labels":false,"tickCount":35,"tickSize":{"condition":{"test":"datum.value % 0.5 == 0","value":-4},"value":-2}}}}}],
  "resolve":{"axis":{"x":"independent","y":"independent"}}}
]
}
